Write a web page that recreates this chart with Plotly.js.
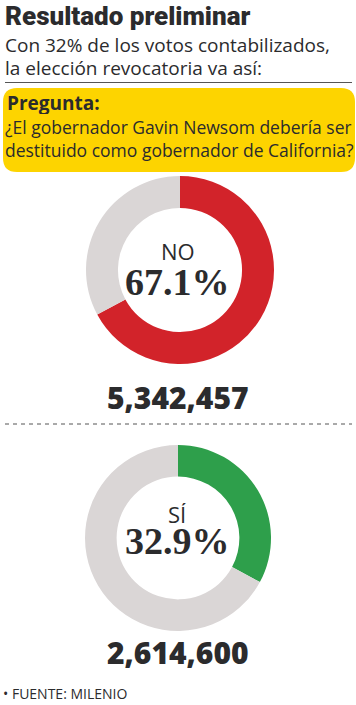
<!DOCTYPE html>
<html><head><meta charset="utf-8">
<script src="https://cdn.plot.ly/plotly-3.0.1.min.js"></script>
<style>html,body{margin:0;padding:0;background:#fff;}#chart{width:356px;height:705px;}</style>
</head><body><div id="chart"></div>
<script>
const answers = ["NO", "SÍ"];
const votes = [5342457, 2614600];
const percentLabels = ["67.1%", "32.9%"];
const voteLabels = ["5,342,457", "2,614,600"];
const title = "Resultado preliminar";
const subtitle = ["Con 32% de los votos contabilizados,", "la elección revocatoria va así:"];
const question = ["Pregunta:", "¿El gobernador Gavin Newsom debería ser", "destituido como gobernador de California?"];
const source = "• FUENTE: MILENIO";

const W = 356, H = 705;
const RED = "#D2232A", GREEN = "#2E9F4B", GRAY = "#DAD6D6", YELLOW = "#FDD400", INK = "#2B2B2D";
const SANS = "Open Sans, Noto Sans, sans-serif";
const SERIF = "Liberation Serif, DejaVu Serif, serif";

const px = x => x / W, py = y => 1 - y / H;
function dom(cx, cy, r) { return {x: [px(cx - r), px(cx + r)], y: [py(cy + r), py(cy - r)]}; }

const traces = [
  {type: "pie", values: [votes[0], votes[1]], labels: [answers[0], answers[1]], sort: false, direction: "clockwise",
   rotation: 0, hole: 0.66, marker: {colors: [RED, GRAY], line: {width: 0}}, textinfo: "none", hoverinfo: "skip",
   domain: dom(180, 270, 94), showlegend: false},
  {type: "pie", values: [votes[1], votes[0]], labels: [answers[1], answers[0]], sort: false, direction: "clockwise",
   rotation: 0, hole: 0.66, marker: {colors: [GREEN, GRAY], line: {width: 0}}, textinfo: "none", hoverinfo: "skip",
   domain: dom(178, 538, 93), showlegend: false}
];

function ann(text, x, y, size, opts) {
  return Object.assign({text: text, x: px(x), y: py(y), xref: "paper", yref: "paper", showarrow: false,
    xanchor: "left", yanchor: "middle", borderpad: 0, borderwidth: 0,
    font: {family: SANS, size: size, color: INK}}, opts || {});
}
const pctFont = {family: SERIF, size: 38, color: INK, weight: 700};
const numFont = {family: SANS, size: 30, color: INK, weight: 800};

const annotations = [
  ann(title, 5, 16, 26, {font: {family: "Roboto, " + SANS, size: 26, color: INK, weight: 900}}),
  ann(subtitle[0], 5, 45, 19, {height: 21}),
  ann(subtitle[1], 5, 67, 19, {height: 21}),
  ann(question[0], 7, 103, 19, {font: {family: SANS, size: 19, color: INK, weight: 700}, height: 22}),
  ann(question[1], 5, 127, 17.5, {height: 22}),
  ann(question[2], 5, 150, 17.5, {height: 22}),
  ann(answers[0], 178, 251, 22, {xanchor: "center", height: 22}),
  ann(percentLabels[0], 177, 282, 38, {xanchor: "center", font: pctFont, height: 36}),
  ann(voteLabels[0], 178, 397, 30, {xanchor: "center", font: numFont}),
  ann(answers[1], 177, 514, 22, {xanchor: "center", height: 22}),
  ann(percentLabels[1], 177, 541, 38, {xanchor: "center", font: pctFont, height: 36}),
  ann(voteLabels[1], 178, 652, 30, {xanchor: "center", font: numFont}),
  ann(source, 3, 693, 14)
];

const x0 = px(3), x1 = px(355), y0 = py(172), y1 = py(88);
const rx = 14 / W, ry = 14 / H;
const boxPath = `M ${x0 + rx} ${y1} L ${x1 - rx} ${y1} Q ${x1} ${y1} ${x1} ${y1 - ry} L ${x1} ${y0 + ry} Q ${x1} ${y0} ${x1 - rx} ${y0} L ${x0 + rx} ${y0} Q ${x0} ${y0} ${x0} ${y0 + ry} L ${x0} ${y1 - ry} Q ${x0} ${y1} ${x0 + rx} ${y1} Z`;

const shapes = [
  {type: "line", xref: "paper", yref: "paper", x0: px(5), x1: px(352), y0: py(82.5), y1: py(82.5), line: {color: "#555", width: 1}},
  {type: "path", xref: "paper", yref: "paper", path: boxPath, fillcolor: YELLOW, line: {width: 0}, layer: "below"},
  {type: "line", xref: "paper", yref: "paper", x0: px(5), x1: px(352), y0: py(424), y1: py(424), line: {color: "#555", width: 1, dash: "4px,4px"}}
];

Plotly.newPlot("chart", traces, {
  width: W, height: H, margin: {l: 0, r: 0, t: 0, b: 0}, paper_bgcolor: "#fff", plot_bgcolor: "#fff",
  annotations: annotations, shapes: shapes, showlegend: false
}, {staticPlot: true, displayModeBar: false});
</script></body></html>
